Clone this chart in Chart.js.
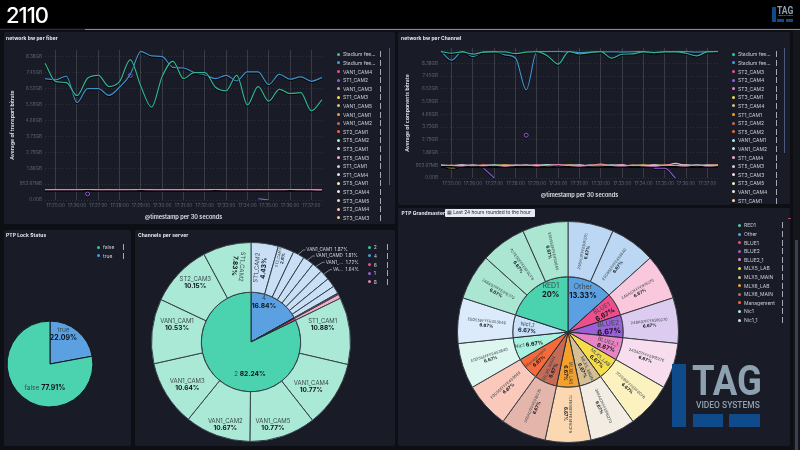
<!DOCTYPE html>
<html>
<head>
<meta charset="utf-8">
<title>2110</title>
<script src="https://cdn.jsdelivr.net/npm/chart.js@4"></script>
<style>
    html, body { margin: 0; padding: 0; background: #0d0f15; overflow: hidden; }
    #page { position: relative; width: 800px; height: 450px; overflow: hidden; font-family: Inter, "Noto Sans", sans-serif; filter: blur(0.4px); }
    #page div, #page canvas, #page span { position: absolute; }
    .panel { background: #191c27; border-radius: 2px; }
    .title { color: #e6e9f0; font-size: 4.9px; font-weight: 700; white-space: nowrap; letter-spacing: 0.1px; }
    .dot { width: 3px; height: 3px; border-radius: 50%; }
    .legend-text { color: #c9cdd6; font-size: 5px; white-space: nowrap; line-height: 6px; }
    .menu { width: 1.2px; height: 6px; background: #a4a8b2; }
</style>
</head>
<body>
<div id="page"></div>
<script>
// Данные линейных графиков
const timeLabels = ['17:24:30','17:25:00','17:25:30','17:26:00','17:26:30','17:27:00','17:27:30','17:28:00','17:28:30',
    '17:29:00','17:29:30','17:30:00','17:30:30','17:31:00','17:31:30','17:32:00','17:32:30','17:33:00','17:33:30',
    '17:34:00','17:34:30','17:35:00','17:35:30','17:36:00','17:36:30','17:37:00','17:37:30'];
const bitrateTicks = ['0.00B','953.67MB','1.86GB','2.79GB','3.73GB','4.66GB','5.59GB','6.52GB','7.45GB','8.38GB'];

const fiberStadiumA = [8.60,7.44,7.38,6.56,7.65,7.84,7.13,7.44,8.81,7.13,5.83,7.76,8.72,7.63,8.01,8.01,7.09,6.86,7.84,5.97,7.13,6.21,6.96,6.69,6.75,5.60,6.29];
const fiberStadiumB = [7.63,7.55,7.78,6.12,7.00,7.00,6.58,7.09,7.88,9.33,9.06,9.01,8.34,8.30,8.01,7.86,7.63,7.84,7.48,8.05,8.05,7.25,7.90,7.59,7.74,7.46,7.69];
const fiberVan4 = [0.65,0.64,0.66,0.65,0.64,0.65,0.64,0.65,0.66,0.65,0.64,0.65,0.65,0.64,0.65,0.66,0.65,0.64,0.65,0.65,0.64,0.65,0.66,0.65,0.64,0.65,0.65];
const fiberCam2 = [null,null,null,null,0.38,null,null,null,7.82,null,null,null,null,null,null,null,null,null,null,null,0.08,0.00,null,null,null,null,null];
const fiberVan3 = [0.64,0.65,0.64,0.64,0.66,0.64,0.65,0.64,0.64,0.66,0.65,0.64,0.64,0.65,0.64,0.64,0.66,0.65,0.64,0.64,0.65,0.64,0.64,0.66,0.65,0.64,0.63];
const fiberCam3 = [0.62,0.63,0.62,0.63,0.62,0.62,0.63,0.62,0.63,0.62,0.62,0.63,0.62,0.62,0.63,0.62,0.63,0.62,0.62,0.63,0.62,0.63,0.62,0.62,0.63,0.62,0.62];

const channelStadiumA = [9.92,9.79,9.90,9.72,9.88,9.90,9.90,9.76,9.88,9.92,9.58,8.93,9.92,9.74,9.84,9.92,9.40,9.71,9.74,9.90,9.84,9.90,9.90,9.79,9.58,9.90,9.92];
const channelStadiumB = [9.92,9.24,9.92,9.53,9.87,9.92,9.66,9.40,6.91,9.92,9.92,9.92,9.90,9.84,9.88,9.90,9.90,9.88,9.90,9.92,9.76,9.90,9.92,9.92,9.88,9.90,9.92];
const channelSt2Cam3 = [0.98,0.95,1.00,0.97,1.02,0.96,0.98,1.00,0.95,1.03,0.97,1.02,0.94,0.99,1.00,0.96,0.97,1.01,0.95,0.98,1.00,0.94,1.02,0.96,0.99,0.97,1.00];
const channelSt2Cam4 = [null,null,null,null,0.76,0.00,null,null,3.35,null,null,null,null,null,null,null,null,null,null,null,0.76,0.76,0.00,null,null,null,null];
const channelSt3Cam2 = [1.00,0.98,0.94,1.01,0.96,1.00,0.93,0.99,1.02,0.95,1.00,1.05,0.98,0.93,1.00,1.03,0.98,0.94,1.00,0.96,0.92,1.01,0.98,0.95,1.02,0.94,0.98];
const channelSt3Cam1 = [0.95,0.78,0.96,1.00,0.94,0.98,1.01,0.95,0.98,0.96,1.00,0.94,1.00,0.97,0.95,0.99,0.97,0.96,1.01,0.93,0.97,0.95,1.00,0.98,0.94,1.00,0.96];
const channelSt3Cam4 = [0.92,0.88,0.98,0.94,0.99,0.93,0.97,0.94,1.00,0.92,0.95,0.98,0.96,1.01,0.93,0.97,0.95,0.99,0.93,1.00,0.96,0.99,0.93,1.04,0.96,0.95,0.93];
const channelSt1Cam1 = [0.97,1.00,0.92,0.98,1.00,0.95,1.02,0.97,0.94,1.00,0.93,0.99,1.02,0.96,0.98,1.10,0.94,0.98,0.96,1.02,0.98,1.02,0.96,0.99,0.94,0.98,1.03];
const channelVan1Cam1 = [1.02,0.97,1.01,0.93,0.98,1.04,0.96,1.02,0.99,0.97,1.06,0.96,1.00,1.02,0.94,0.97,1.02,1.00,0.97,0.95,1.01,0.97,1.00,0.93,1.03,0.96,0.95];
const channelVan1Cam2 = [0.94,0.99,0.97,1.02,0.93,0.97,1.00,0.96,1.01,0.98,0.94,1.00,0.97,0.95,1.02,0.94,1.00,0.95,0.98,1.01,0.94,0.96,0.98,1.01,0.97,1.02,0.97];
const channelSt5Cam3 = [0.99,0.96,1.03,0.95,1.00,0.98,0.94,0.98,0.96,1.01,0.98,0.95,0.99,1.00,0.97,0.95,0.99,1.03,0.94,0.97,1.03,0.98,1.15,0.97,0.95,0.99,1.01];

// Подписи легенд
const fiberLegend = ['Stadium fee...','Stadium fee...','VAN1_CAM4','ST1_CAM2','VAN1_CAM3','ST1_CAM3','VAN1_CAM5','VAN1_CAM1','VAN1_CAM2','ST2_CAM1','ST5_CAM2','ST3_CAM1','ST5_CAM3','ST1_CAM1','ST1_CAM4','ST5_CAM1','ST3_CAM4','ST3_CAM5','ST2_CAM4','ST3_CAM3'];
const channelLegend = ['Stadium fee...','Stadium fee...','ST2_CAM3','ST2_CAM4','ST3_CAM2','ST3_CAM1','ST3_CAM4','ST1_CAM1','ST2_CAM2','ST5_CAM2','VAN1_CAM1','VAN1_CAM2','ST1_CAM4','ST5_CAM3','ST3_CAM3','ST3_CAM5','VAN1_CAM4','ST1_CAM1'];
const legendColors = ['#2fc9a0','#3f9ede','#ec4f8c','#9460d8','#e884c4','#f5dc4b','#d6bf95','#f5a02c','#c46a55','#f56a3a','#a9f0df','#c9e2fa','#f7a9cf','#d7c6ef','#f7dcee','#fbf2bf','#f2ecd8','#fbd8b2','#fbc9bc','#f8c49a'];

// Данные круговых диаграмм
const lockLabels = ['true','false'];
const lockValues = [22.09,77.91];
const serverNames = ['4','8','1','6','2'];
const serverValues = [16.84,0.10,0.15,0.67,82.24];
const channelNames = ['ST1_CAM2','ST2_CAM3','VAN1_CAM1','VAN1_CAMD','VAN1_...','VA...','','','','','','ST1_CAM1','VAN1_CAM4','VAN1_CAM5','VAN1_CAM2','VAN1_CAM3','VAN1_CAM1','ST2_CAM3','ST1_CAM2'];
const channelValues = [4.43,2.6,1.87,1.81,1.72,1.64,1.5,1.27,0.10,0.15,0.67,10.88,10.77,10.77,10.67,10.64,10.53,10.15,7.83];
const masterNames = ['Other','BLUE1','BLUE2','BLUE2_1','MLX5_LAB','MLX5_MAIN','MLX6_LAB','MLX6_MAIN','Management','Nic1','Nic1_1','RED1'];
const masterValues = [13.33,6.67,6.67,6.67,6.67,6.67,6.67,6.67,6.67,6.67,6.67,20];
const clockNames = ['248A07FFFE916270','E0D55EFFFE453640','248A07FFFE916270','248A07FFFE916270','248A07FFFE916270','7CFE90FFFE5F6CF8','248A07FFFE916270','7CFE90FFFE5F6CF8','248A07FFFE916270','E0D55EFFFE453640','E0D55EFFFE453640','E0D55EFFFE453640','248A07FFFE916270','7CFE90FFFE5F6CF8','E0D55EFFFE453640'];
const clockValues = [6.67,6.67,6.67,6.67,6.67,6.67,6.67,6.67,6.67,6.67,6.67,6.67,6.67,6.67,6.67];

// Цвета колец
const serverColors = ['#5ba0e0','#e884c4','#9b5fd8','#ec4f8c','#4bd2ae'];
const channelColors = ['#c8dff6','#c8dff6','#c8dff6','#c8dff6','#c8dff6','#c8dff6','#c8dff6','#c8dff6','#f7cde6','#d7c6ef','#f5a9c6','#abe9d7','#abe9d7','#abe9d7','#abe9d7','#abe9d7','#abe9d7','#abe9d7','#abe9d7'];
const masterColors = ['#5ba0e0','#ec4f8c','#9b5fd8','#e884c4','#f5dc4b','#d6bf95','#f5a02c','#c46a55','#f56a3a','#a9f0df','#c9e2fa','#4bd2ae'];
const clockColors = ['#bbd7f3','#bbd7f3','#fac8dc','#dccdf0','#f7ddee','#fbf2bf','#f2ece3','#fbd8b2','#e4b5ab','#fbc9bc','#ddf7f0','#dcebfb','#abe6d3','#abe6d3','#abe6d3'];

const page = document.getElementById('page');

function box(cls, left, top, width, height, css) {
    const el = document.createElement('div');
    el.className = cls;
    el.style.left = left + 'px';
    el.style.top = top + 'px';
    if (width !== null) el.style.width = width + 'px';
    if (height !== null) el.style.height = height + 'px';
    if (css) Object.assign(el.style, css);
    page.appendChild(el);
    return el;
}

function text(cls, left, top, value, css) {
    const el = box(cls, left, top, null, null, css);
    el.textContent = value;
    return el;
}

// Легенда: кружок, подпись и значок меню
function drawLegend(names, colors, dotX, firstY, menuX) {
    names.forEach((name, i) => {
        const y = firstY + i * 8.6;
        box('dot', dotX - 1.5, y - 1.5, null, null, {background: colors[i]});
        text('legend-text', dotX + 4.7, y - 3, name);
        box('menu', menuX, y - 3, null, null);
    });
}

function addCanvas(left, top, width, height) {
    const canvas = document.createElement('canvas');
    canvas.width = width;
    canvas.height = height;
    canvas.style.left = left + 'px';
    canvas.style.top = top + 'px';
    canvas.style.width = width + 'px';
    canvas.style.height = height + 'px';
    page.appendChild(canvas);
    return canvas;
}

// Одиночная точка рисуется кольцом, в линии точек нет
function lineDataset(label, data, color, width) {
    return {
        label: label,
        data: data,
        borderColor: color,
        borderWidth: width,
        backgroundColor: 'transparent',
        cubicInterpolationMode: 'monotone',
        spanGaps: false,
        pointBorderWidth: 1,
        pointBorderColor: color,
        pointBackgroundColor: 'transparent',
        pointRadius: ctx => {
            const d = ctx.dataset.data;
            const i = ctx.dataIndex;
            return d[i] !== null && d[i - 1] == null && d[i + 1] == null ? 2 : 0;
        }
    };
}

const lineShadow = {
    id: 'lineShadow',
    beforeDatasetsDraw(chart) {
        const ctx = chart.ctx;
        ctx.save();
        ctx.shadowColor = 'rgba(0,0,0,0.9)';
        ctx.shadowBlur = 0.5;
        ctx.shadowOffsetY = 1;
    },
    afterDatasetsDraw(chart) {
        chart.ctx.restore();
    }
};

function lineChart(canvas, datasets, layout) {
    return new Chart(canvas, {
        type: 'line',
        data: {labels: timeLabels, datasets: datasets},
        plugins: [lineShadow],
        options: {
            responsive: false,
            animation: false,
            layout: {padding: {top: layout.top, right: 8, left: 0, bottom: 0}},
            plugins: {legend: {display: false}, tooltip: {enabled: false}},
            scales: {
                x: {
                    afterFit: scale => { scale.height = layout.xHeight; },
                    grid: {
                        drawTicks: false,
                        color: ctx => ctx.index % 2 === 1 ? 'rgba(255,255,255,0.14)' : 'transparent'
                    },
                    border: {display: false},
                    title: {display: true, text: '@timestamp per 30 seconds', color: '#dfe3ea',
                        font: {family: 'Inter', size: 5.6, weight: '600'}, padding: {top: 0, bottom: layout.xTitleBottom}},
                    ticks: {
                        autoSkip: false, maxRotation: 0, padding: 3, color: '#5f6472',
                        font: {family: 'Inter', size: 4.6},
                        callback: (v, i) => i % 2 === 1 ? timeLabels[i] : ''
                    }
                },
                y: {
                    min: 0,
                    max: layout.yMax,
                    afterFit: scale => { scale.width = layout.yWidth; },
                    grid: {drawTicks: false, color: 'rgba(255,255,255,0.09)'},
                    border: {display: false, dash: [1, 2]},
                    title: {display: true, text: layout.yTitle, color: '#dfe3ea',
                        font: {family: 'Inter', size: 5.2, weight: '600'}, padding: {top: layout.yTitleLeft, bottom: 0}},
                    ticks: {
                        stepSize: 1, includeBounds: false, padding: 3, color: '#5f6472',
                        font: {family: 'Inter', size: 4.6},
                        callback: v => bitrateTicks[v] || ''
                    }
                }
            }
        }
    });
}

// Подпись сектора: имя и жирный процент, вся группа повернута на rot градусов
function ringLabel(ctx, x, y, item) {
    const size = item.size || 6;
    ctx.save();
    ctx.translate(x, y);
    ctx.rotate((item.rot || 0) * Math.PI / 180);
    ctx.textBaseline = 'middle';
    const nameFont = size + 'px Inter';
    const pctFont = '700 ' + (size + 0.5) + 'px Inter';
    if (item.inline) {
        ctx.font = nameFont;
        const nameWidth = ctx.measureText(item.name + ' ').width;
        ctx.font = pctFont;
        const pctWidth = ctx.measureText(item.pct).width;
        const start = -(nameWidth + pctWidth) / 2;
        ctx.textAlign = 'left';
        ctx.font = nameFont;
        ctx.fillStyle = '#3c4a4a';
        ctx.fillText(item.name, start, 0);
        ctx.font = pctFont;
        ctx.fillStyle = '#10141a';
        ctx.fillText(item.pct, start + nameWidth, 0);
    } else {
        const gap = size * 0.58;
        ctx.textAlign = 'center';
        ctx.font = nameFont;
        ctx.fillStyle = '#3c4a4a';
        ctx.fillText(item.name, 0, -gap);
        ctx.font = pctFont;
        ctx.fillStyle = '#10141a';
        ctx.fillText(item.pct, 0, gap);
    }
    ctx.restore();
}

function ringChart(canvas, padding, datasets, drawLabels) {
    return new Chart(canvas, {
        type: 'pie',
        data: {datasets: datasets},
        plugins: [{
            id: 'ringLabels',
            afterDatasetsDraw(chart) {
                drawLabels(chart.ctx, chart);
            }
        }],
        options: {
            responsive: false,
            animation: false,
            layout: {padding: padding},
            plugins: {legend: {display: false}, tooltip: {enabled: false}}
        }
    });
}

// Каркас страницы
box('', 0, 0, 800, 28, {background: '#000'});
box('', 0, 28.5, 85, 1.2, {background: '#2b2d33'});
box('', 85, 28.5, 715, 1.4, {background: '#c4698a'});
text('', 6, 0.5, '2110', {color: '#fff', fontSize: '22px', fontWeight: '500', lineHeight: '28px', letterSpacing: '-1px'});
box('', 793, 30, 7, 420, {background: '#14161c'});
box('', 795, 240, 2.6, 210, {background: '#3c4150'});

box('panel', 4, 32, 391, 192);
box('panel', 398, 32, 392, 173);
box('panel', 4, 230, 127, 216);
box('panel', 135, 230, 260, 216);
box('panel', 398, 208, 392, 238);

text('title', 6, 35, 'network bw per fiber');
text('title', 401, 35, 'network bw per Channel');
text('title', 6, 232, 'PTP Lock Status');
text('title', 138, 232, 'Channels per server');
text('title', 401.5, 210, 'PTP Grandmaster');

// Плашка с периодом
text('', 445, 209.3, '▦ Last 24 hours rounded to the hour', {
    background: '#e7eaf0', color: '#1c2230', fontSize: '4.8px', lineHeight: '7.6px', width: '88px',
    paddingLeft: '2px', borderRadius: '1px', whiteSpace: 'nowrap', overflow: 'hidden'
});
box('', 788, 217.6, 2.6, 1, {background: '#b3446c'});

// Линейные графики
lineChart(addCanvas(3, 32, 327, 192), [
    lineDataset('Stadium feed A', fiberStadiumA, '#33b393', 1.2),
    lineDataset('Stadium feed B', fiberStadiumB, '#3f8fc8', 1.2),
    lineDataset('VAN1_CAM3', fiberVan3, '#e884c4', 1.1),
    lineDataset('VAN1_CAM4', fiberVan4, '#ec4f8c', 1.1),
    lineDataset('ST1_CAM2', fiberCam2, '#8a5ccf', 1.1),
    lineDataset('ST1_CAM3', fiberCam3, '#f5dc4b', 1)
], {top: 18, xHeight: 24, xTitleBottom: 3, yMax: 9.43, yWidth: 42, yTitle: 'Average of transport bitrate', yTitleLeft: 6.5});

lineChart(addCanvas(403, 32, 323, 173), [
    lineDataset('Stadium feed A', channelStadiumA, '#33b393', 1.2),
    lineDataset('Stadium feed B', channelStadiumB, '#3f8fc8', 1.2),
    lineDataset('ST2_CAM4', channelSt2Cam4, '#8a5ccf', 1.1),
    lineDataset('ST3_CAM2', channelSt3Cam2, '#e884c4', 1.1),
    lineDataset('VAN1_CAM1', channelVan1Cam1, '#a9f0df', 1.1),
    lineDataset('ST1_CAM1', channelSt1Cam1, '#f5a02c', 1.1),
    lineDataset('VAN1_CAM2', channelVan1Cam2, '#c9e2fa', 1.1),
    lineDataset('ST5_CAM3', channelSt5Cam3, '#f7a9cf', 1.1),
    lineDataset('ST3_CAM4', channelSt3Cam4, '#d6bf95', 1.1),
    lineDataset('ST3_CAM1', channelSt3Cam1, '#f5dc4b', 1.1),
    lineDataset('ST2_CAM3', channelSt2Cam3, '#ec4f8c', 1.1)
], {top: 16, xHeight: 27, xTitleBottom: 6, yMax: 10.2, yWidth: 38, yTitle: 'Average of components bitrate', yTitleLeft: 1});

// Легенды
drawLegend(fiberLegend, legendColors, 338.3, 54.3, 380.2);
box('', 388.6, 48, 1.4, 137, {background: '#4a5a80'});
drawLegend(channelLegend, legendColors, 733.3, 54.3, 775.6);
box('', 783.8, 48, 1.4, 105, {background: '#4a5a80'});
box('', 730, 203.5, 60, 2.5, {background: '#0d0f15'});
drawLegend(['false', 'true'], ['#2fc9a0', '#3f9ede'], 98.3, 247.3, 123.3);
drawLegend(['2', '4', '6', '1', '8'], legendColors, 369, 247.3, 386.6);
drawLegend(['RED1','Other','BLUE1','BLUE2','BLUE2_1','MLX5_LAB','MLX5_MAIN','MLX6_LAB','MLX6_MAIN','Management','Nic1','Nic1_1'],
    ['#4bd2ae','#5ba0e0','#ec4f8c','#9b5fd8','#e884c4','#f5dc4b','#d6bf95','#f5a02c','#c46a55','#f56a3a','#a9f0df','#c9e2fa'], 739.3, 225.4, 781.6);

// PTP Lock Status
ringChart(addCanvas(50 - 47, 364.3 - 47, 94, 94), 3.6, [{
    data: lockValues,
    backgroundColor: ['#5ba0e0', '#4bd2ae'],
    borderColor: '#12151d',
    borderWidth: 1
}], (ctx, chart) => {
    const c = chart.getDatasetMeta(0).data[0];
    ringLabel(ctx, c.x + 13.5, c.y - 30, {name: lockLabels[0], pct: lockValues[0] + '%', size: 6.5});
    ringLabel(ctx, c.x - 5, c.y + 23.7, {name: lockLabels[1], pct: lockValues[1] + '%', size: 6.5, inline: true});
});

// Channels per server
const serverLabelLayout = [
    {name: 'ST1_CAM1', pct: '10.88%', at: [71.7, -17.3]},
    {name: 'VAN1_CAM4', pct: '10.77%', at: [60.3, 44.7]},
    {name: 'VAN1_CAM5', pct: '10.77%', at: [22, 83]},
    {name: 'VAN1_CAM2', pct: '10.67%', at: [-25.7, 83]},
    {name: 'VAN1_CAM3', pct: '10.64%', at: [-63.7, 43]},
    {name: 'VAN1_CAM1', pct: '10.53%', at: [-74, -17]},
    {name: 'ST2_CAM3', pct: '10.15%', at: [-55.7, -59]},
    {name: 'ST1_CAM2', pct: '7.83%', at: [-12.7, -75.7], rot: 95},
    {name: 'ST1_CAM2', pct: '4.43%', at: [9.3, -74], rot: -85},
    {name: 'ST2_CAM3', pct: '2.6%', at: [29.7, -84], rot: -78, size: 3.8},
    {name: '4', pct: '16.84%', at: [13, -40], size: 6.2},
    {name: '2', pct: '82.24%', at: [-1, 31.7], size: 6.2, inline: true}
];
const serverLeaders = [
    {name: 'VAN1_CAM1', pct: '1.87%', from: [47, -87.3], to: [52.3, -92]},
    {name: 'VAN1_CAMD', pct: '1.81%', from: [55.7, -81.3], to: [61.7, -86]},
    {name: 'VAN1_...', pct: '1.72%', from: [65, -75.7], to: [71.7, -79.7]},
    {name: 'VA...', pct: '1.64%', from: [73, -68], to: [79, -72.3]}
];
ringChart(addCanvas(251 - 120, 342.3 - 110, 240, 220), {left: 20, right: 20, top: 10, bottom: 10}, [
    {data: channelValues, backgroundColor: channelColors, borderColor: '#36424a', borderWidth: 1, weight: 1, names: channelNames},
    {data: serverValues, backgroundColor: serverColors, borderColor: '#1f2a30', borderWidth: 1, weight: 1, names: serverNames}
], (ctx, chart) => {
    const c = chart.getDatasetMeta(0).data[0];
    serverLabelLayout.forEach(l => ringLabel(ctx, c.x + l.at[0], c.y + l.at[1], l));
    serverLeaders.forEach(l => {
        ctx.strokeStyle = '#c9cdd6';
        ctx.lineWidth = 0.6;
        ctx.beginPath();
        ctx.moveTo(c.x + l.from[0], c.y + l.from[1]);
        ctx.lineTo(c.x + l.to[0], c.y + l.to[1]);
        ctx.lineTo(c.x + l.to[0] + 2, c.y + l.to[1]);
        ctx.stroke();
        ctx.fillStyle = '#d5d8e0';
        ctx.font = '4.6px Inter';
        ctx.textAlign = 'left';
        ctx.textBaseline = 'middle';
        ctx.fillText(l.name + '  ' + l.pct, c.x + l.to[0] + 3, c.y + l.to[1]);
    });
});

// PTP Grandmaster: подписи идут вдоль радиуса сектора
const masterSizes = [7, 6.2, 7, 5.4, 4.8, 4.4, 4.4, 4.4, 4.2, 5, 5.2, 7];
ringChart(addCanvas(568.3 - 115, 332.3 - 115, 230, 230), 4, [
    {data: clockValues, backgroundColor: clockColors, borderColor: '#3a3f46', borderWidth: 1, weight: 1, names: clockNames},
    {data: masterValues, backgroundColor: masterColors, borderColor: '#262b33', borderWidth: 1, weight: 1, names: masterNames}
], (ctx, chart) => {
    const radial = deg => deg <= 180 ? deg - 90 : deg - 270;
    chart.getDatasetMeta(0).data.forEach((arc, i) => {
        const deg = ((arc.startAngle + arc.endAngle) / 2 + Math.PI / 2) * 180 / Math.PI;
        const r = (arc.innerRadius + arc.outerRadius) / 2 - 1;
        const a = (arc.startAngle + arc.endAngle) / 2;
        ringLabel(ctx, arc.x + r * Math.cos(a), arc.y + r * Math.sin(a),
            {name: clockNames[i], pct: clockValues[i] + '%', rot: radial(deg), size: 3.9});
    });
    chart.getDatasetMeta(1).data.forEach((arc, i) => {
        const deg = ((arc.startAngle + arc.endAngle) / 2 + Math.PI / 2) * 180 / Math.PI;
        const a = (arc.startAngle + arc.endAngle) / 2;
        const name = masterNames[i];
        const pct = masterValues[i] + '%';
        if (name === 'RED1') {
            ringLabel(ctx, arc.x - 17.3, arc.y - 41.7, {name, pct, size: masterSizes[i]});
        } else if (name === 'Other') {
            ringLabel(ctx, arc.x + 15, arc.y - 40.7, {name, pct, size: masterSizes[i]});
        } else {
            const rot = name === 'Nic1' ? -8 : radial(deg);
            ringLabel(ctx, arc.x + 41 * Math.cos(a), arc.y + 41 * Math.sin(a),
                {name, pct, rot, size: masterSizes[i], inline: name === 'Nic1'});
        }
    });
});

// Логотипы TAG
function logo(x, y, scale) {
    const blue = '#0f4a8a';
    const grey = '#8ea1b0';
    box('', x, y, 14.3 * scale, 62.7 * scale, {background: blue});
    box('', x + 21 * scale, y + 50 * scale, 30.5 * scale, 12.7 * scale, {background: blue});
    box('', x + 57.5 * scale, y + 50 * scale, 30.7 * scale, 12.7 * scale, {background: blue});
    text('', x + 20 * scale, y - 5.5 * scale, 'TAG', {
        color: grey, fontFamily: 'Roboto', fontWeight: '700', fontSize: 43 * scale + 'px', lineHeight: 43 * scale + 'px',
        transform: 'scaleX(0.85)', transformOrigin: '0 0'
    });
    text('', x + 24 * scale, y + 35.5 * scale, 'VIDEO SYSTEMS', {
        color: grey, fontFamily: 'Roboto', fontWeight: '500', fontSize: 9.6 * scale + 'px', lineHeight: 10 * scale + 'px',
        transform: 'scaleX(0.88)', transformOrigin: '0 0', whiteSpace: 'nowrap'
    });
}
logo(671.7, 364, 1);
logo(772.3, 7, 0.235);
</script>
</body>
</html>
